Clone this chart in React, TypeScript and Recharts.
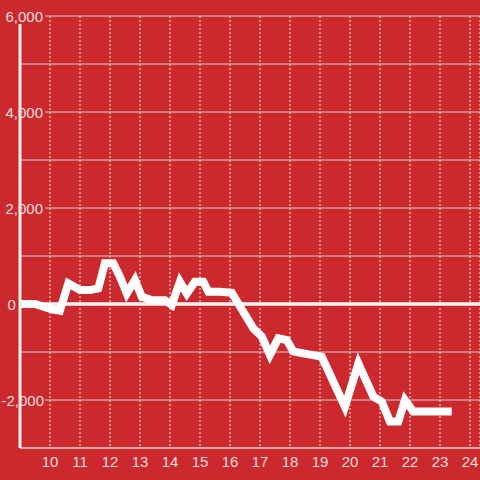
import React from "react";
import {
  LineChart,
  Line,
  XAxis,
  YAxis,
  CartesianGrid,
  ReferenceLine,
} from "recharts";

// x positions (day / hour) and values
const xValues = [
  9.0, 9.5, 10.06, 10.33, 10.61, 11.0, 11.33, 11.61, 11.83, 12.11, 12.33,
  12.56, 12.83, 13.06, 13.39, 13.83, 14.06, 14.33, 14.56, 14.83, 15.11,
  15.28, 15.67, 16.06, 16.78, 17.06, 17.33, 17.61, 17.89, 18.11, 18.44,
  18.72, 19.06, 19.83, 20.28, 20.78, 21.06, 21.33, 21.61, 21.83, 22.11, 23.39,
];
const yValues = [
  0, 0, -110, -140, 430, 290, 290, 325, 850, 850, 570, 220, 500, 150, 80, 80,
  -20, 465, 220, 465, 465, 255, 255, 235, -510, -680, -1060, -715, -750, -990,
  -1030, -1060, -1100, -2140, -1240, -1930, -2035, -2450, -2450, -2000, -2240,
  -2240,
];
const xTicks = [10, 11, 12, 13, 14, 15, 16, 17, 18, 19, 20, 21, 22, 23, 24];
const yTicks = [-3000, -2000, -1000, 0, 1000, 2000, 3000, 4000, 5000, 6000];
const yLabelled = [-2000, 0, 2000, 4000, 6000];

const data = xValues.map((x, i) => ({ x, v: yValues[i] }));

const BG = "#cc292e";
const TEXT = "#f4dede";

function YTick(props: any) {
  const { y, payload } = props;
  const v = payload.value;
  if (!yLabelled.includes(v)) return null;
  const label = v.toLocaleString("en-US");
  return (
    <g>
      {v !== 0 && (
        <rect
          x={v === 6000 ? 0 : 23}
          y={y - 8}
          width={v === 6000 ? 45 : 22}
          height={v === 6000 ? 16 : 15}
          fill={BG}
        />
      )}
      <text
        x={v < 0 ? 1.5 : v === 0 ? 7.5 : 5.5}
        y={y + 5.5}
        fill={TEXT}
        fontSize={15}
        fontFamily="Liberation Sans, Arial, sans-serif"
        textAnchor="start"
      >
        {label}
      </text>
    </g>
  );
}

export default function App() {
  return (
    <div
      style={{
        position: "fixed",
        left: 0,
        top: 0,
        width: 480,
        height: 480,
        background: BG,
      }}
    >
      <LineChart
        width={480}
        height={480}
        data={data}
        margin={{ top: 16, right: 0, bottom: 0, left: 0 }}
      >
        <CartesianGrid
          vertical={false}
          stroke="#d2cfcf"
          strokeWidth={1}
        />
        <CartesianGrid
          horizontal={false}
          stroke="#f2eaea"
          strokeDasharray="2 2"
          strokeWidth={1}
        />
        <XAxis
          dataKey="x"
          type="number"
          domain={[9, 24.3333]}
          ticks={xTicks}
          height={32}
          tickLine={false}
          axisLine={{ stroke: "#d8d4d4", strokeWidth: 1 }}
          tick={{
            fill: TEXT,
            fontSize: 15,
            fontFamily: "Liberation Sans, Arial, sans-serif",
          }}
          allowDataOverflow
        />
        <YAxis
          type="number"
          domain={[-3000, 6000]}
          ticks={yTicks}
          width={20}
          tickLine={false}
          axisLine={{ stroke: "#f0eded", strokeWidth: 3 }}
          tick={<YTick />}
          interval={0}
        />
        <ReferenceLine y={0} stroke="#fbf4f4" strokeWidth={3.5} />
        <Line
          type="linear"
          dataKey="v"
          stroke="#ffffff"
          strokeWidth={8}
          dot={false}
          isAnimationActive={false}
        />
      </LineChart>
    </div>
  );
}
